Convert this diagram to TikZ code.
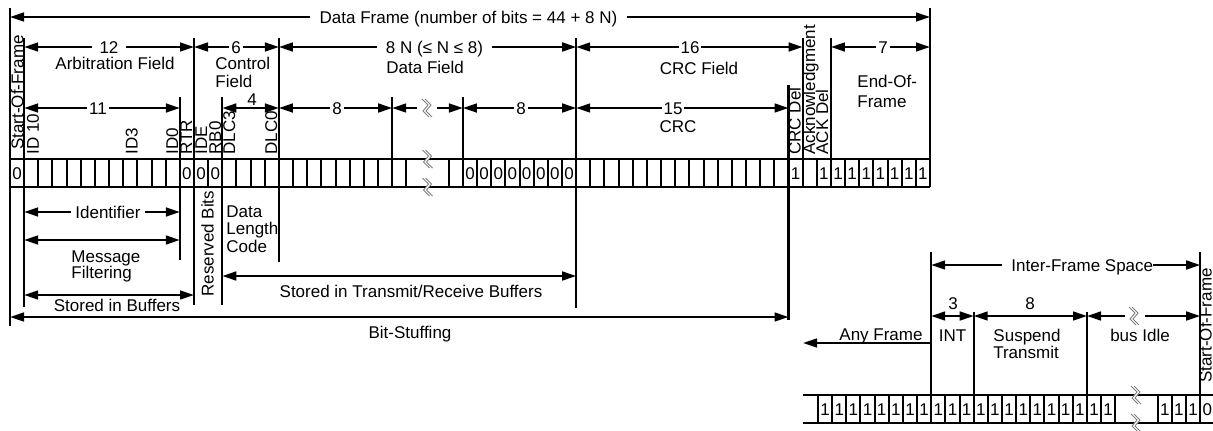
\documentclass[tikz,border=0pt]{standalone}
\usepackage{fontspec}
\setmainfont{Liberation Sans}
\usetikzlibrary{arrows.meta}
\begin{document}
\begin{tikzpicture}[x=0.5pt,y=-0.5pt,
  >={Triangle[length=7pt,width=4.4pt]},
  every node/.style={font=\fontsize{8.5}{10}\selectfont,inner sep=0pt,text height=6.1pt,text depth=0pt},
  ln/.style={line width=1.1pt},
  cellln/.style={line width=1pt},
  dim/.style={line width=1.1pt,<->},
  ldim/.style={line width=1.1pt,<-},
  rdim/.style={line width=1.1pt,->},
  lbl/.style={fill=white,inner xsep=1.5pt,inner ysep=1pt},
  rot/.style={rotate=90,anchor=base west},
  zz/.pic={
    \fill[white] (-5,-9) -- (1,-3) -- (-4,3) -- (2,9) -- (5,9) -- (-1,3) -- (4,-3) -- (-2,-9) -- cycle;
    \draw[gray,line width=0.45pt] (-5,-9) -- (1,-3) -- (-4,3) -- (2,9)
                                  (-2,-9) -- (4,-3) -- (-1,3) -- (5,9);
  }]
\useasboundingbox (0,0) rectangle (1213,430);
\def\cw{14.1538}

% ---------- main frame: vertical lines ----------
\draw[ln] (10,8) -- (10,326);
\draw[ln] (930,8) -- (930,187);
\draw[ln] (24.15,38) -- (24.15,307);
\draw[ln] (179.85,97) -- (179.85,260);
\draw[ln] (194,38) -- (194,305);
\draw[ln] (222.3,97) -- (222.3,305);
\draw[ln] (278.9,38) -- (278.9,262);
\draw[ln] (392.2,97) -- (392.2,159);
\draw[ln] (462.9,97) -- (462.9,159);
\draw[ln] (576.2,38) -- (576.2,308);
\draw[ln] (788.5,85) -- (788.5,320);
\draw[ln] (802.6,38) -- (802.6,159);
\draw[ln] (830.9,38) -- (830.9,159);

% ---------- bit row ----------
\draw[cellln] (10,159) -- (930,159) (10,187) -- (930,187);
\foreach \i in {0,...,65}{\ifnum\i=29\relax\else\ifnum\i=30\relax\else
  \draw[cellln] ({10+\i*\cw},159) -- ({10+\i*\cw},187);\fi\fi}
\foreach \k in {0,12,13,14,32,33,...,39}
  \node at ({10+(\k+0.5)*\cw},173) {0};
\foreach \k in {55,57,58,...,64}
  \node at ({10+(\k+0.5)*\cw},173) {1};
\pic at (427.5,159) {zz};
\pic at (427.5,187) {zz};

% ---------- top dimension ----------
\draw[dim] (10,17) -- (930,17);
\node[lbl,inner xsep=5pt] (df) at (468.5,17) {Data Frame (number of bits = 44 + 8 N)};

% ---------- field level ----------
\draw[dim] (24.15,47) -- (194,47);
\node[lbl,inner xsep=4pt] (n12) at (109,47) {12};
\node (arb) at (115,63.5) {Arbitration Field};
\draw[dim] (194,47) -- (278.9,47);
\node[lbl,inner xsep=1pt] (n6) at (236,47) {6};
\node[anchor=west] (ctl1) at (215,63.5) {Control};
\node[anchor=west] (ctl2) at (215,81.5) {Field};
\draw[dim] (278.9,47) -- (576.2,47);
\node[lbl,inner xsep=4.5pt] (n8n) at (434.5,47.5) {8 N (≤ N ≤ 8)};
\node[anchor=west] (dat) at (386,67.5) {Data Field};
\draw[dim] (576.2,47) -- (802.6,47);
\node[lbl,inner xsep=1pt] (n16) at (690,47) {16};
\node (crcf) at (699,68) {CRC Field};
\draw[dim] (830.9,47) -- (930,47);
\node[lbl,inner xsep=1pt] (n7) at (883,47) {7};
\node[anchor=west] (eof1) at (857,81) {End-Of-};
\node[anchor=west] (eof2) at (857,101) {Frame};

% ---------- sub level ----------
\draw[dim] (24.15,108) -- (179.85,108);
\node[lbl,inner xsep=1pt] (n11) at (98,108) {11};
\draw[dim] (222.3,108) -- (278.9,108);
\node (n4) at (252,99) {4};
\draw[dim] (278.9,108) -- (392.2,108);
\node[lbl,inner xsep=1pt] (n8a) at (337,108) {8};
\draw[ldim] (392.2,108) -- (417,108);
\draw[rdim] (437,108) -- (462.9,108);
\pic at (427,108) {zz};
\draw[dim] (462.9,108) -- (576.2,108);
\node[lbl,inner xsep=1pt] (n8b) at (521,108) {8};
\draw[dim] (576.2,108) -- (788.5,108);
\node[lbl,inner xsep=1pt] (n15) at (673,108) {15};
\node (crc) at (678,126) {CRC};

% ---------- rotated bit names ----------
\node[rot] at (23.5,150) {Start-Of-Frame};
\node[rot] at (39,155) {ID 10};
\node[rot] at (137.5,155) {ID3};
\node[rot] at (178,155) {ID0};
\node[rot] at (192,155) {RTR};
\node[rot] at (207,155) {IDE};
\node[rot] at (221,155) {RB0};
\node[rot] at (235,155) {DLC3};
\node[rot] at (277,155) {DLC0};
\node[rot] at (800.5,155) {CRC Del};
\node[rot] at (815,155) {Acknowledgment};
\node[rot] at (828,155) {ACK Del};

% ---------- below the row ----------
\draw[dim] (24.15,212) -- (179.85,212);
\node[lbl,inner xsep=2pt] (idf) at (108,212.5) {Identifier};
\draw[dim] (24.15,240) -- (179.85,240);
\node[anchor=west] (mf1) at (71,256) {Message};
\node[anchor=west] (mf2) at (71,272.5) {Filtering};
\draw[dim] (24.15,295) -- (194,295);
\node (sib) at (117,305) {Stored in Buffers};
\node[rot] at (213.5,297) {Reserved Bits};
\node[anchor=west] (dlc1) at (226,211) {Data};
\node[anchor=west] (dlc2) at (226,228.5) {Length};
\node[anchor=west] (dlc3) at (226,246) {Code};
\draw[dim] (222.3,276) -- (576.2,276);
\node (strb) at (411,291) {Stored in Transmit/Receive Buffers};
\draw[dim] (10,317) -- (788.5,317);
\node (bs) at (410,332) {Bit-Stuffing};

% ---------- inter-frame space ----------
\draw[ln] (931.2,252) -- (931.2,395);
\draw[ln] (973.7,312) -- (973.7,395);
\draw[ln] (1087,312) -- (1087,395);
\draw[ln] (1200.2,252) -- (1200.2,395);
\draw[dim] (931.2,265) -- (1200.2,265);
\node[fill=white,anchor=west,inner xsep=0pt,inner ysep=1pt] (ifs) at (1002,265) {\hspace{4.5pt}Inter-Frame Space};
\draw[dim] (931.2,316) -- (973.7,316);
\node (n3) at (953,303) {3};
\node (int) at (952.5,335) {INT};
\draw[dim] (973.7,316) -- (1087,316);
\node (n8c) at (1030,303) {8};
\node (sus1) at (1027,335) {Suspend};
\node (sus2) at (1026,352) {Transmit};
\draw[ldim] (1087,316) -- (1125,316);
\draw[rdim] (1145,316) -- (1200.2,316);
\pic at (1134,316) {zz};
\node (idle) at (1140,335) {bus Idle};
\draw[rdim] (931.2,343) -- (803,343);
\node (any) at (881,334.5) {Any Frame};
\node[rot] at (1211.5,383) {Start-Of-Frame};

\draw[cellln] (803,395) -- (1213,395) (803,423) -- (1213,423);
\foreach \j in {0,...,27}{\ifnum\j=22\relax\else\ifnum\j=23\relax\else
  \draw[cellln] ({818+\j*\cw},395) -- ({818+\j*\cw},423);\fi\fi}
\foreach \j in {0,...,20,24,25,26}
  \node at ({818+(\j+0.5)*\cw},409) {1};
\node at ({818+27.5*\cw},409) {0};
\pic at (1136,395) {zz};
\pic at (1136,423) {zz};
\end{tikzpicture}
\end{document}
